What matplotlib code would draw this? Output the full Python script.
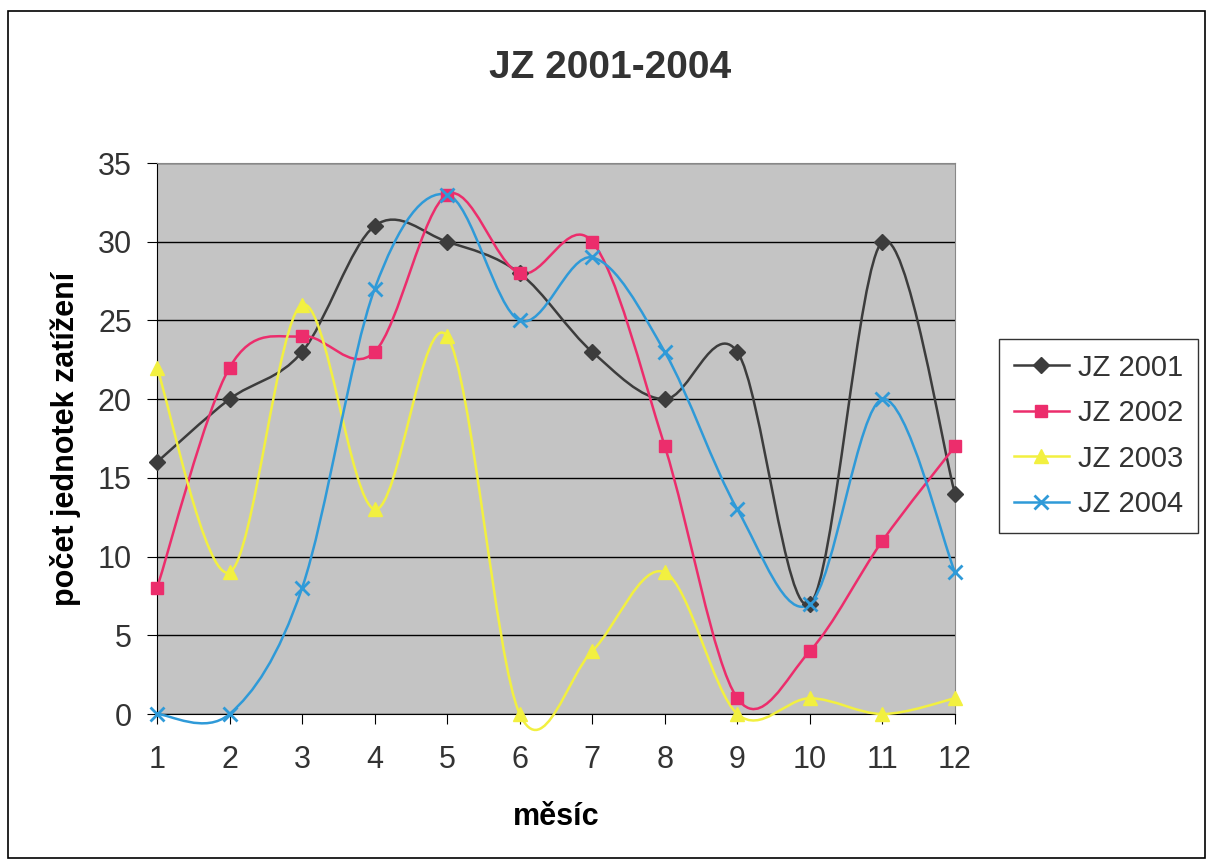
import matplotlib
matplotlib.use("Agg")
import matplotlib.pyplot as plt
from matplotlib.path import Path
from matplotlib.patches import PathPatch, Rectangle
import numpy as np

plt.rcParams['font.family'] = ['Liberation Sans', 'DejaVu Sans']
plt.rcParams['text.color'] = '#333333'

months = [1, 2, 3, 4, 5, 6, 7, 8, 9, 10, 11, 12]
jz_2001 = [16, 20, 23, 31, 30, 28, 23, 20, 23, 7, 30, 14]
jz_2002 = [8, 22, 24, 23, 33, 28, 30, 17, 1, 4, 11, 17]
jz_2003 = [22, 9, 26, 13, 24, 0, 4, 9, 0, 1, 0, 1]
jz_2004 = [0, 0, 8, 27, 33, 25, 29, 23, 13, 7, 20, 9]
labels = ['JZ 2001', 'JZ 2002', 'JZ 2003', 'JZ 2004']


def smooth_path(x, y):
    # Excel-like smoothed line: cubic bezier segments through the points
    pts = np.column_stack([x, y]).astype(float)
    n = len(pts)
    verts = [pts[0]]
    codes = [Path.MOVETO]
    for i in range(n - 1):
        p0 = pts[i - 1] if i > 0 else pts[i]
        p1 = pts[i]
        p2 = pts[i + 1]
        p3 = pts[i + 2] if i + 2 < n else pts[i + 1]
        c1 = p1 + (p2 - p0) / 6.0
        c2 = p2 - (p3 - p1) / 6.0
        verts += [c1, c2, p2]
        codes += [Path.CURVE4] * 3
    return Path(verts, codes)


fig = plt.figure(figsize=(12.13, 8.64), dpi=100)
ax = fig.add_axes([0.1294, 0.1736, 0.6579, 0.6377])
ax.set_facecolor('#c4c4c4')

series = [
    (jz_2001, '#3c3c3c', 'D', 8),
    (jz_2002, '#ec2d6c', 's', 9),
    (jz_2003, '#f2f040', '^', 10),
    (jz_2004, '#2f9ad8', 'x', 10),
]

handles = []
for (vals, col, mk, ms), lab in zip(series, labels):
    ax.add_patch(PathPatch(smooth_path(months, vals), facecolor='none',
                           edgecolor=col, lw=1.8, zorder=3, clip_on=False))
    ax.plot(months, vals, linestyle='none', marker=mk, color=col, clip_on=False,
            markersize=ms, markeredgewidth=2 if mk == 'x' else 1, zorder=4)
    h, = ax.plot([], [], color=col, lw=1.8, marker=mk, markersize=ms,
                 markeredgewidth=2 if mk == 'x' else 1)
    handles.append(h)

ax.set_xlim(1, 12)
ax.set_ylim(0, 35)
ax.set_xticks(months)
ax.set_yticks(range(0, 36, 5))
ax.yaxis.grid(True, color='black', lw=1)
ax.set_axisbelow(True)
for s in ['top', 'right']:
    ax.spines[s].set_color('#888888')
for s in ['left', 'bottom']:
    ax.spines[s].set_color('black')
ax.tick_params(axis='both', labelsize=22, labelcolor='#333333', color='black',
               length=7, direction='out')
ax.tick_params(axis='x', pad=15)
ax.tick_params(axis='y', pad=11)

fig.text(610 / 1213, 1 - 78 / 864, 'JZ 2001-2004', fontsize=28, fontweight='bold',
         ha='center', va='baseline')
ax.set_xlabel('měsíc', fontsize=22, fontweight='bold', labelpad=20)
ax.set_ylabel('počet jednotek zatížení', fontsize=22, fontweight='bold', labelpad=12)

leg = fig.legend(handles, labels, loc='upper left',
                 bbox_to_anchor=(999 / 1213, 1 - 339 / 864), borderaxespad=0,
                 fontsize=21, frameon=True, fancybox=False, edgecolor='black',
                 handlelength=1.9, handletextpad=0.3, borderpad=0.5, labelspacing=0.6)
leg.get_frame().set_linewidth(1)
for t in leg.get_texts():
    t.set_color('#333333')

fig.patches.append(Rectangle((0.007, 0.007), 0.986, 0.98, transform=fig.transFigure,
                             fill=False, edgecolor='black', lw=1.2))

fig.savefig('out.png', dpi=100)
